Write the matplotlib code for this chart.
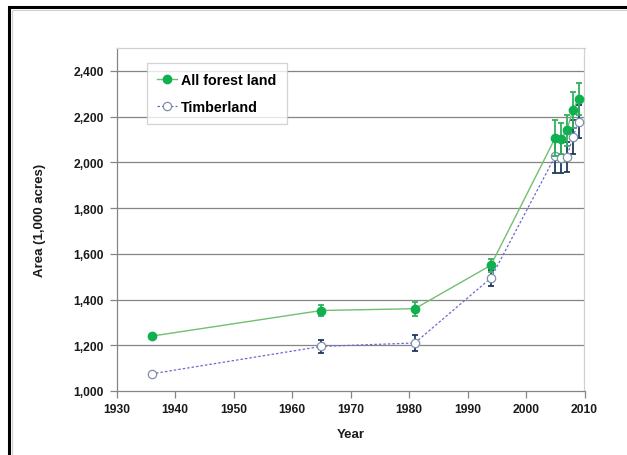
import matplotlib
matplotlib.use("Agg")
import matplotlib.pyplot as plt
from matplotlib.patches import Rectangle
from matplotlib.ticker import FuncFormatter

# Forest area estimates by inventory year (1,000 acres)
years = [1936, 1965, 1981, 1994, 2005, 2006, 2007, 2008, 2009]
forest_land = [1240, 1352, 1360, 1550, 2107, 2104, 2140, 2229, 2279]
forest_err = [0, 25, 30, 29, 78, 67, 67, 77, 70]
timberland = [1075, 1195, 1210, 1494, 2027, 2020, 2024, 2110, 2178]
timber_err = [0, 30, 35, 33, 75, 68, 66, 73, 73]

y_ticks = [1000, 1200, 1400, 1600, 1800, 2000, 2200, 2400]
x_ticks = [1930, 1940, 1950, 1960, 1970, 1980, 1990, 2000, 2010]

plt.rcParams['font.family'] = ['Liberation Sans', 'DejaVu Sans']

fig = plt.figure(figsize=(6.27, 4.56), dpi=100)
W, H = 627, 456

# outer chart frame
fig.patches.append(Rectangle((9 / W, -0.05), 1.2, 1 - 8 / H + 0.05,
                             transform=fig.transFigure, fill=False,
                             edgecolor='black', linewidth=2.2))
fig.patches.append(Rectangle((12 / W, -0.05), 1.2, 1 - 11 / H + 0.05,
                             transform=fig.transFigure, fill=False,
                             edgecolor='#d0d0d0', linewidth=0.8))

left, right = 116.5 / W, 584.5 / W
bottom, top = 1 - 392 / H, 1 - 49 / H
ax = fig.add_axes([left, bottom, right - left, top - bottom])

ax.set_xlim(1930, 2010)
ax.set_ylim(1000, 2500)
ax.set_xticks(x_ticks)
ax.set_yticks(y_ticks)
ax.yaxis.set_major_formatter(FuncFormatter(lambda v, p: f"{int(v):,}"))

for yv in y_ticks[1:]:
    ax.axhline(yv, color='#858585', linewidth=0.9, zorder=1)

for s in ['left', 'bottom']:
    ax.spines[s].set_color('#858585')
    ax.spines[s].set_linewidth(0.9)
for s in ['top', 'right']:
    ax.spines[s].set_color('#d0d0d0')
    ax.spines[s].set_linewidth(0.9)

ax.tick_params(axis='both', direction='out', length=5, width=0.9,
               color='#858585', labelsize=8.7, pad=4)
for lab in ax.get_xticklabels() + ax.get_yticklabels():
    lab.set_fontweight('bold')
    lab.set_color('#1a1a1a')

# timberland series
ax.errorbar(years, timberland, yerr=timber_err, fmt='none',
            ecolor='#1f3a5f', elinewidth=1.3, capsize=2.5, capthick=1.3, zorder=3)
ax.plot(years, timberland, color='#6a6ad0', linewidth=0.9, linestyle=(0, (2, 1.6)),
        marker='o', markersize=6, markerfacecolor='white',
        markeredgecolor='#8090a8', markeredgewidth=0.9, zorder=4,
        label='Timberland')

# all forest land series
ax.errorbar(years, forest_land, yerr=forest_err, fmt='none',
            ecolor='#33b060', elinewidth=1.3, capsize=2.5, capthick=1.3, zorder=5)
ax.plot(years, forest_land, color='#70c070', linewidth=1.0,
        marker='o', markersize=6, markerfacecolor='#10b050',
        markeredgecolor='#10b050', zorder=6, label='All forest land')

handles, labels = ax.get_legend_handles_labels()
leg = ax.legend(handles[::-1], labels[::-1], loc='upper left',
                bbox_to_anchor=((147 - 116.5) / (584.5 - 116.5), (392 - 64) / (392 - 49)),
                frameon=True, fancybox=False, edgecolor='#c8c8c8',
                prop={'weight': 'bold', 'size': 10.3}, handlelength=1.4,
                handletextpad=0.3, borderpad=0.7, labelspacing=0.9,
                borderaxespad=0)
leg.get_frame().set_linewidth(0.9)
leg.set_zorder(10)

ax.set_xlabel('Year', fontsize=9.5, fontweight='bold', color='#1a1a1a', labelpad=9)
ax.set_ylabel('Area (1,000 acres)', fontsize=9.5, fontweight='bold', color='#1a1a1a',
              labelpad=20)

fig.savefig('out.png', dpi=100)
